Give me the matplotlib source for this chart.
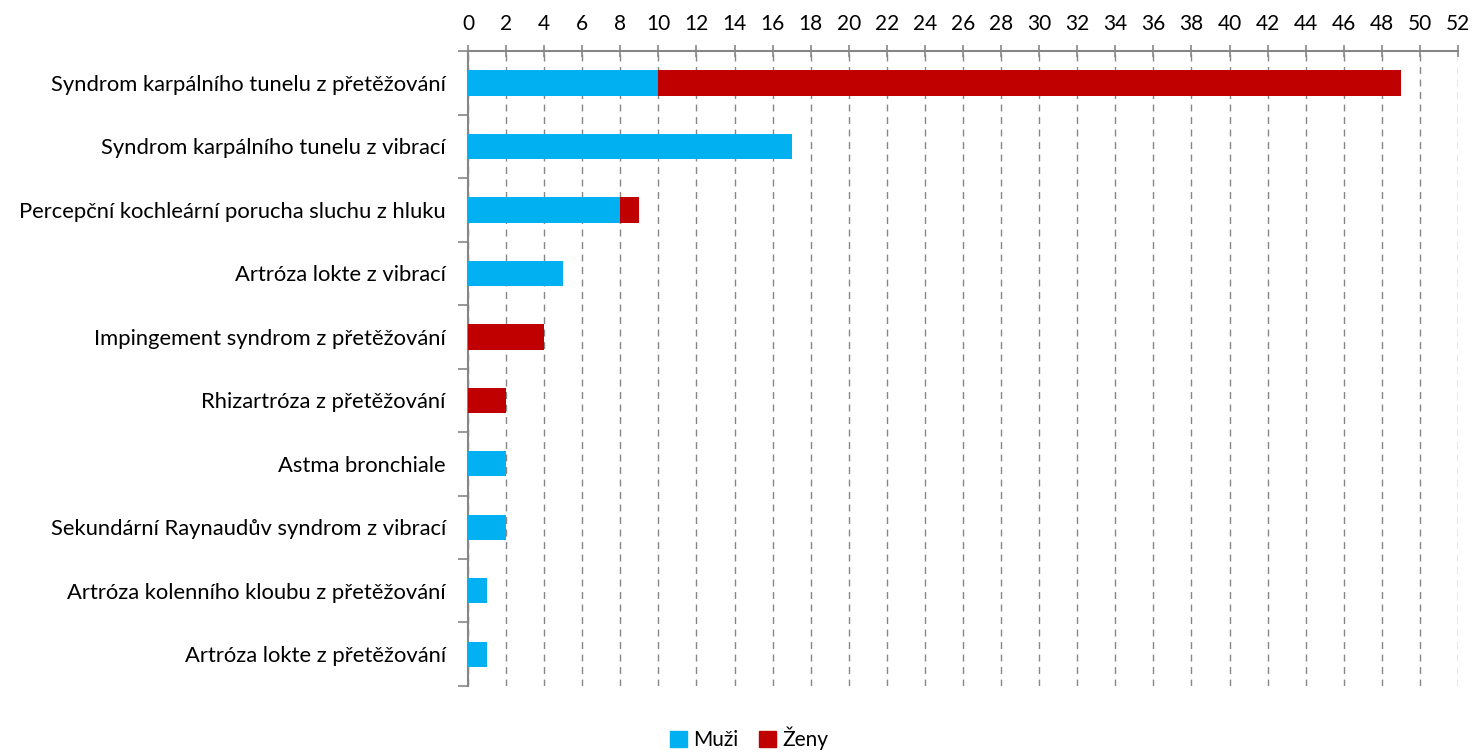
import matplotlib.pyplot as plt
from matplotlib.patches import Patch

plt.rcParams['font.family'] = ['Lato', 'DejaVu Sans']

nemoci = ['Syndrom karpálního tunelu z přetěžování',
          'Syndrom karpálního tunelu z vibrací',
          'Percepční kochleární porucha sluchu z hluku',
          'Artróza lokte z vibrací',
          'Impingement syndrom z přetěžování',
          'Rhizartróza z přetěžování',
          'Astma bronchiale',
          'Sekundární Raynaudův syndrom z vibrací',
          'Artróza kolenního kloubu z přetěžování',
          'Artróza lokte z přetěžování']
muzi = [10, 17, 8, 5, 0, 0, 2, 2, 1, 1]
zeny = [39, 0, 1, 0, 4, 2, 0, 0, 0, 0]

modra = '#00B0F0'
cervena = '#C00000'
seda = '#868686'

fig = plt.figure(figsize=(14.75, 7.52), dpi=100)
ax = fig.add_axes([0.3173, 0.0878, 0.9885 - 0.3173, 0.932 - 0.0878])

y = list(range(len(nemoci)))
ax.barh(y, muzi, height=0.4, color=modra, zorder=3)
ax.barh(y, zeny, left=muzi, height=0.4, color=cervena, zorder=3)

ax.set_xlim(0, 52)
ax.set_ylim(len(nemoci) - 0.5, -0.5)
ax.xaxis.tick_top()
ax.set_xticks(range(0, 53, 2))
ax.tick_params(axis='x', direction='inout', length=8, width=1.2, color=seda,
               labelsize=15, pad=8)

# y ticks at category boundaries, labels in centers
ax.set_yticks([i - 0.5 for i in range(len(nemoci) + 1)])
ax.set_yticklabels([])
ax.set_yticks(y, minor=True)
ax.set_yticklabels(nemoci, minor=True)
ax.tick_params(axis='y', which='major', direction='out', length=7, width=1.2, color=seda)
ax.tick_params(axis='y', which='minor', length=0, labelsize=15.8, pad=16)

ax.grid(axis='x', linestyle=(0, (5, 4)), color=seda, linewidth=1, zorder=0)
for s in ['right', 'bottom']:
    ax.spines[s].set_visible(False)
for s in ['top', 'left']:
    ax.spines[s].set_color(seda)
    ax.spines[s].set_linewidth(1.5)

handles = [Patch(color=modra, label='Muži'), Patch(color=cervena, label='Ženy')]
fig.legend(handles=handles, loc='center', bbox_to_anchor=(0.508, 0.018), ncol=2,
           frameon=False, fontsize=15, handlelength=0.8, handleheight=0.8,
           handletextpad=0.3, columnspacing=1.0)

fig.savefig('out.png', dpi=100)
